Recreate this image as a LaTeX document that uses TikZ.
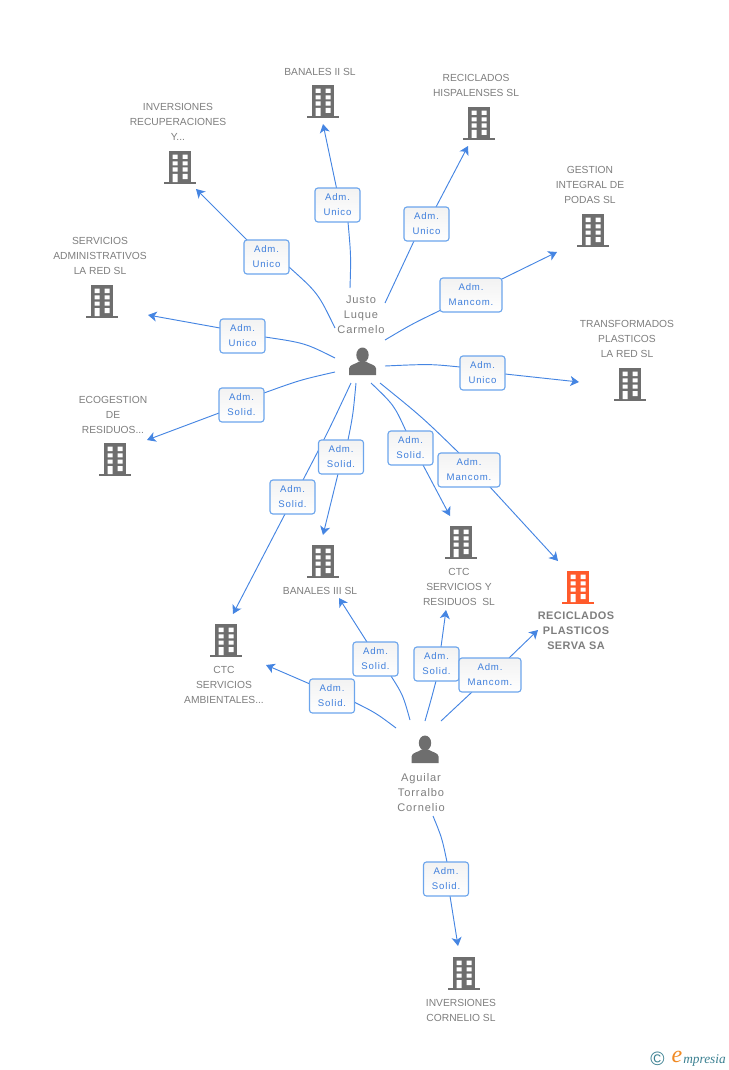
\documentclass[tikz,border=0pt]{standalone}
\usepackage{fontspec}
\setmainfont{Liberation Sans}
\newfontfamily\lblfont{Liberation Sans}
\newfontfamily\namefont[LetterSpace=8]{Liberation Sans}
\newfontfamily\boldfont[LetterSpace=4]{Liberation Sans}
\newfontfamily\admfont[LetterSpace=9]{Liberation Sans}
\newfontfamily\logofont{Liberation Serif}
\usetikzlibrary{arrows.meta,backgrounds,calc}
\definecolor{linkblue}{HTML}{4585E2}
\definecolor{boxblue}{HTML}{6CA5EC}
\definecolor{admblue}{HTML}{3F7FDC}
\definecolor{lblgray}{HTML}{7E7E7E}
\definecolor{iconorange}{HTML}{FF5A2B}
\definecolor{icongray}{HTML}{6E6E6E}
\definecolor{logoteal}{HTML}{3B8091}
\definecolor{logoorange}{HTML}{F08A24}
\tikzset{
  x=0.75pt,y=-0.75pt,
  lbl/.style={inner sep=0pt,align=center,text=lblgray,font=\lblfont\fontsize{7.7}{11.25}\selectfont},
  lblname/.style={lbl,font=\namefont\fontsize{8.3}{11.25}\selectfont},
  lblb/.style={lbl,font=\boldfont\bfseries\fontsize{8.2}{11.25}\selectfont},
  admbox/.style={draw=boxblue,line width=0.85pt,rounded corners=2.2pt,top color=black!5,bottom color=white,
    minimum width=33.75pt,minimum height=25.5pt,inner sep=0pt,align=center,text=admblue,
    font=\admfont\fontsize{7.2}{11.25}\selectfont},
  admwide/.style={admbox,minimum width=46.5pt},
  link/.style={draw=linkblue,line width=0.7pt},
  arr/.style={link,-{Stealth[length=6.5pt,width=7.5pt,inset=1.8pt]}},
  pics/bldg/.style={code={
    \fill[#1] (-11,-33) rectangle (11,-2);
    \fill[#1] (-16,-2) rectangle (16,0);
    \fill[white] (-7.3,-29.3) rectangle (-2.3,-25) (2.7,-29.3) rectangle (7.7,-25)
                 (-7.3,-22.7) rectangle (-2.3,-18.7) (2.7,-22.7) rectangle (7.7,-18.7)
                 (-7.3,-16.5) rectangle (-2.3,-12.3) (2.7,-16.5) rectangle (7.7,-12.3)
                 (-7.3,-10) rectangle (-2.3,-2) (2.7,-10) rectangle (7.7,-5);
  }},
  pics/person/.style={code={
    \fill[icongray] (0,-6.5) ellipse (6.2 and 7.5);
    \fill[icongray] (-13.5,13.5) -- (-13.5,7) .. controls (-13.5,3) and (-6,2.5) .. (-3.5,0)
      -- (3.5,0) .. controls (6,2.5) and (13.5,3) .. (13.5,7) -- (13.5,13.5) -- cycle;
  }}
}
% start, control, box, entry offset, exit offset, end
\newcommand\lnk[6]{%
  \coordinate (#3s) at (#1);
  \coordinate (#3e) at (#6);
  \begin{pgfonlayer}{background}
    \draw[link] (#3s) .. controls (#2) .. ($(#3.center)+(#4)$);
    \draw[arr] ($(#3.center)+(#5)$) -- (#3e);
  \end{pgfonlayer}}
\begin{document}
\begin{tikzpicture}
\useasboundingbox (0,0) rectangle (728,1070);
% buildings
\pic at (323,118) {bldg=icongray};
\pic at (479,140) {bldg=icongray};
\pic at (180,184) {bldg=icongray};
\pic at (593,247) {bldg=icongray};
\pic at (102,318) {bldg=icongray};
\pic at (630,401) {bldg=icongray};
\pic at (115,476) {bldg=icongray};
\pic at (323,578) {bldg=icongray};
\pic at (461,559) {bldg=icongray};
\pic at (578,604) {bldg=iconorange};
\pic at (226,657) {bldg=icongray};
\pic at (464,990) {bldg=icongray};
% persons
\pic at (362.5,361.5) {person};
\pic at (425,749.5) {person};
% labels
\node[lbl] (tBanII) at (320,71.5) {BANALES II SL};
\node[lbl] (tHisp) at (476,85) {RECICLADOS\\HISPALENSES SL};
\node[lbl] (tInv) at (178,121.5) {INVERSIONES\\RECUPERACIONES\\Y...};
\node[lbl] (tGest) at (590,184.5) {GESTION\\INTEGRAL DE\\PODAS SL};
\node[lbl] (tServ) at (100,255.5) {SERVICIOS\\ADMINISTRATIVOS\\LA RED SL};
\node[lbl] (tTrans) at (627,338.5) {TRANSFORMADOS\\PLASTICOS\\LA RED SL};
\node[lbl] (tEco) at (113,414.5) {ECOGESTION\\DE\\RESIDUOS...};
\node[lbl] (tBanIII) at (320,590.5) {BANALES III SL};
\node[lbl] (tCtcS) at (459,586.5) {CTC\\SERVICIOS Y\\RESIDUOS\ \ SL};
\node[lblb] (tServa) at (576,631) {RECICLADOS\\PLASTICOS\\SERVA SA};
\node[lbl] (tCtcA) at (224,684.5) {CTC\\SERVICIOS\\AMBIENTALES...};
\node[lbl] (tCorn) at (461,1010) {INVERSIONES\\CORNELIO SL};
\node[lblname] (justo) at (361,314.5) {Justo\\Luque\\Carmelo};
\node[lblname] (aguilar) at (421,792.5) {Aguilar\\Torralbo\\Cornelio};
% role boxes
\node[admbox] (b1) at (337.5,205) {Adm.\\Unico};
\node[admbox] (b2) at (426.5,224) {Adm.\\Unico};
\node[admbox] (b3) at (266.5,257) {Adm.\\Unico};
\node[admwide] (b4) at (471,295) {Adm.\\Mancom.};
\node[admbox] (b5) at (242.5,336) {Adm.\\Unico};
\node[admbox] (b6) at (482.5,373) {Adm.\\Unico};
\node[admbox] (b7) at (241.5,405) {Adm.\\Solid.};
\node[admbox] (b8) at (341,457) {Adm.\\Solid.};
\node[admbox] (b9) at (410.5,448) {Adm.\\Solid.};
\node[admwide] (b10) at (469,470) {Adm.\\Mancom.};
\node[admbox] (b11) at (292.5,497) {Adm.\\Solid.};
\node[admbox] (b12) at (375.5,659) {Adm.\\Solid.};
\node[admbox] (b13) at (332,696) {Adm.\\Solid.};
\node[admbox] (b14) at (436.5,664) {Adm.\\Solid.};
\node[admwide] (b15) at (490,675) {Adm.\\Mancom.};
\node[admbox] (b16) at (446,879) {Adm.\\Solid.};
% connectors
\lnk{350,288}{351,256}{b1}{10.5,17}{-1,-17}{323,124}
\lnk{385,303}{400,272}{b2}{-12.5,17}{9.5,-17}{468,146}
\lnk{335,328}{318,293}{b3}{22.5,10}{-19.5,-17}{196,189}
\lnk{385,340}{412,324}{b4}{-30,15}{31,-16}{557,252}
\lnk{335,358}{305,343}{b5}{22.5,1}{-22.5,-8}{148,315}
\lnk{385,366}{430,364}{b6}{-22.5,-6}{22.5,1}{579,382}
\lnk{335,372}{300,380}{b7}{22.5,-12}{-22.5,8}{147,440}
\lnk{356,383}{353,415}{b8}{7,-17}{-3,17}{323,535}
\lnk{371,383}{394,405}{b9}{-4.5,-17}{12.5,17}{450,516}
\lnk{380,383}{422,417}{b10}{-10,-17}{21,17}{558,561}
\lnk{351,383}{328,432}{b11}{10.5,-17}{-7.5,17}{233,614}
\lnk{410,720}{403,695}{b12}{15.5,17}{-8.5,-17}{339,598}
\lnk{396,728}{376,713}{b13}{22,6}{-22,-12}{266,665}
\lnk{425,721}{431,700}{b14}{-0.5,17}{4.5,-17}{446,610}
\lnk{441,721}{457,706}{b15}{-18,17}{19,-17}{538,630}
\lnk{433,816}{442,838}{b16}{1,-17}{4,17}{458,946}
% logo
\node[inner sep=0pt,text=logoteal,font=\fontsize{14.5}{14.5}\selectfont] (copy) at (657.5,1059) {©};
\node[inner sep=0pt,text=logoorange,font=\logofont\itshape\fontsize{18}{18}\selectfont] (loge) at (677,1057) {e};
\node[inner sep=0pt,anchor=west,text=logoteal,font=\logofont\itshape\fontsize{10}{10}\selectfont] (logt) at (683,1060) {mpresia};
\end{tikzpicture}
\end{document}
